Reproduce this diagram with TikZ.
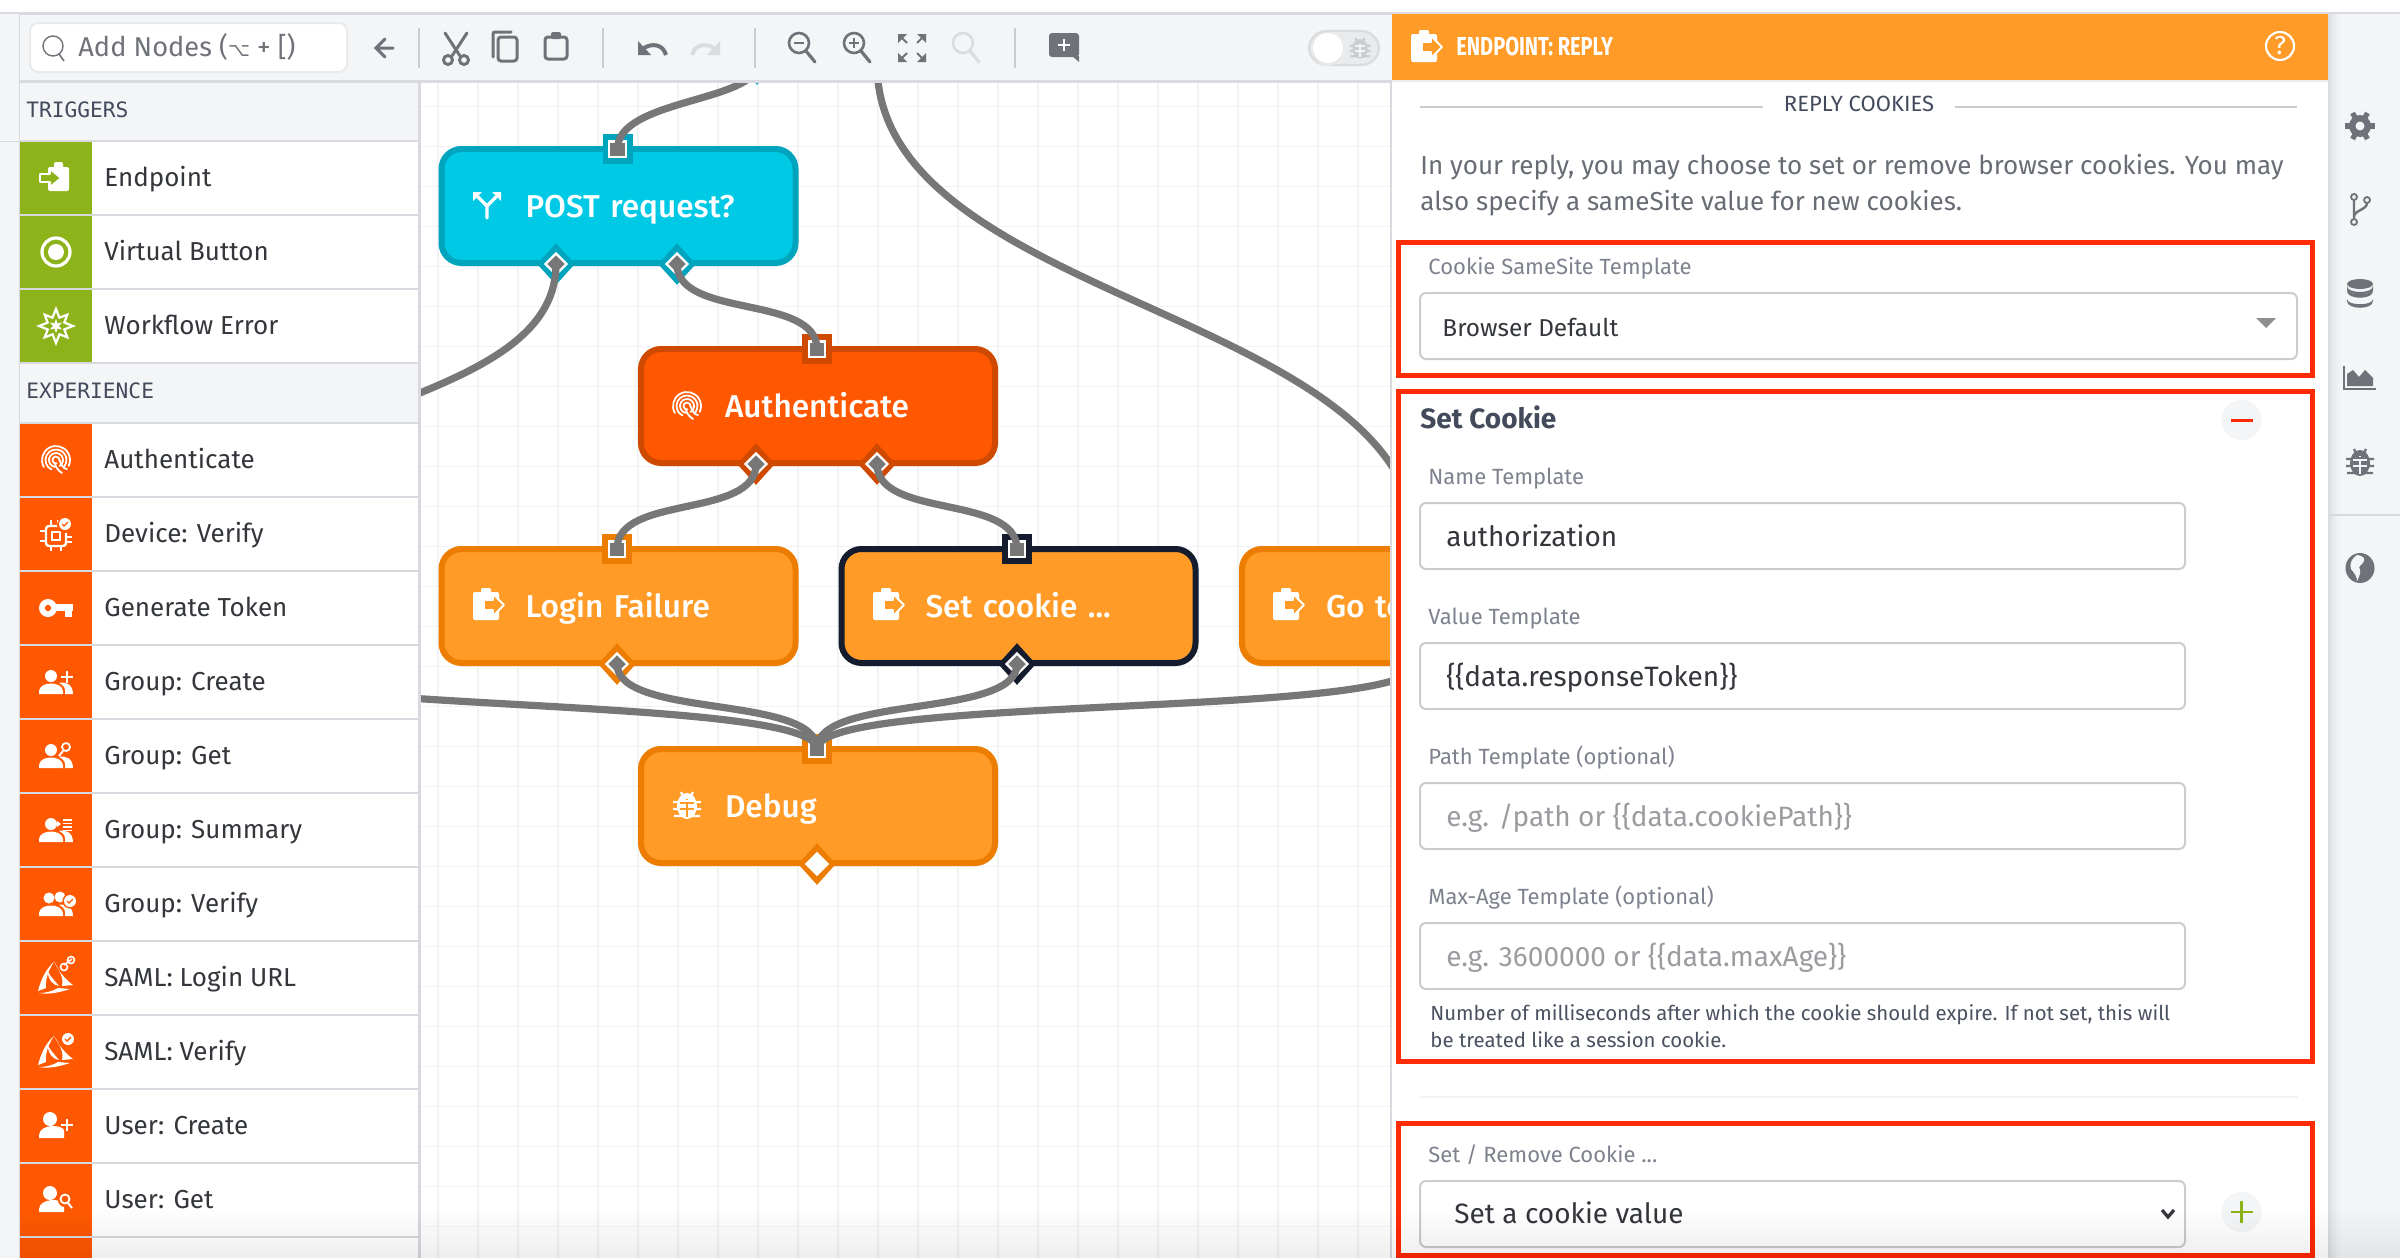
\documentclass[tikz,border=0pt]{standalone}
\usepackage{fontspec}
\usetikzlibrary{shapes.geometric}
\setmainfont{Fira Sans}
\newfontfamily\monof{DejaVu Sans Mono}
\newfontfamily\dejav{DejaVu Sans}
\newfontfamily\firamed{Fira Sans Medium}
\newcommand{\fs}[1]{\fontsize{#1pt}{#1pt}\selectfont}
\definecolor{cCyan}{HTML}{00C9E6}\definecolor{cCyanB}{HTML}{00A4BD}
\definecolor{cRed}{HTML}{FF5800}\definecolor{cRedB}{HTML}{CF4A00}
\definecolor{cOr}{HTML}{FF9B26}\definecolor{cOrB}{HTML}{EC7D00}
\definecolor{cDark}{HTML}{141C2E}\definecolor{cGreen}{HTML}{8DB31A}
\definecolor{cWire}{HTML}{777777}\definecolor{cBg}{HTML}{F4F5F7}
\definecolor{cLine}{HTML}{D9DAE0}\definecolor{cGrid}{HTML}{F2F3F4}
\definecolor{cIcon}{HTML}{6F7278}\definecolor{cLight}{HTML}{DBDCDE}
\definecolor{cBox}{HTML}{FF2B05}\definecolor{cField}{HTML}{CBCCCF}
\definecolor{cLabel}{HTML}{7D828E}\definecolor{cPara}{HTML}{676C75}
\definecolor{cHead}{HTML}{424A5C}\definecolor{cTxt}{HTML}{33363B}
\definecolor{cHint}{HTML}{9A9CA0}\definecolor{cHelp}{HTML}{4A5160}
\newcommand{\flowlab}[1]{\hspace*{42pt}#1}
\tikzset{
  flow/.style={draw,rectangle,rounded corners=10pt,line width=3pt,minimum width=177pt,minimum height=57pt,
    inner xsep=0pt,inner ysep=0pt,text width=177pt,align=left,text=white,font=\firamed\fs{15.8},text height=11pt,text depth=0pt},
  sqout/.style={rectangle,minimum size=15pt,inner sep=0pt},
  sqin/.style={rectangle,fill=cWire,draw=white,line width=1.1pt,minimum width=8.2pt,minimum height=7.6pt,inner sep=0pt},
  diout/.style={diamond,inner sep=0pt,minimum width=19pt,minimum height=21pt},
  diin/.style={diamond,fill=cWire,draw=white,line width=1.1pt,inner sep=0pt,minimum width=11pt,minimum height=11pt},
  wire/.style={draw=cWire,line width=3.6pt},
  redbox/.style={draw=cBox,line width=2.4pt},
  field/.style={draw=cField,fill=white,line width=1pt,rounded corners=3pt},
  lab/.style={anchor=base west,inner sep=0pt,font=\fs{11},text=cLabel},
  inp/.style={anchor=base west,inner sep=0pt,font=\fs{14},text=cTxt},
  hint/.style={anchor=base west,inner sep=0pt,font=\fs{14},text=cHint},
  itm/.style={anchor=base west,inner sep=0pt,font=\fs{13},text=cTxt},
  hdr/.style={anchor=base west,inner sep=0pt,font=\monof\fs{10.6},text=cHead},
  ti/.style={draw=cIcon,line width=1.5pt,line cap=round},
  wi/.style={draw=white,line width=1.2pt,line cap=round},
}
% --- icons, drawn about (0,0) in px
\newcommand{\icReply}[1]{\fill[white,rounded corners=1pt] (-16,-12) rectangle (10,16);\fill[white,rounded corners=1pt] (-8,-16) rectangle (2,-10);
  \filldraw[fill=#1,draw=white,line width=.9pt,line join=round] (-5,-4)--(4,-4)--(4,-10)--(15,1)--(4,12)--(4,6)--(-5,6)--cycle;}
\newcommand{\icEnter}[1]{\fill[white,rounded corners=1pt] (-7,-10) rectangle (14,14);\fill[white,rounded corners=1pt] (-1,-15) rectangle (8,-8);
  \filldraw[fill=#1,draw=white,line width=.9pt,line join=round] (-15,-3)--(-5,-3)--(-5,-8)--(6,1)--(-5,10)--(-5,5)--(-15,5)--cycle;}
\newcommand{\icPrint}{\draw[wi,line width=.9pt] (150:14) arc (150:385:14);
  \draw[wi,line width=.9pt] (115:10.5) arc (115:400:10.5);
  \draw[wi,line width=.9pt] (100:7) arc (100:420:7);
  \draw[wi,line width=.9pt] (80:3.5) arc (80:365:3.5);
  \draw[wi,line width=.9pt] (0:3.5)..controls (5,4) and (7,9)..(11,9);
  \draw[wi,line width=.9pt] (-1,4)..controls (0,8) and (3,11)..(6,13);}
\newcommand{\gpA}{\fill[white] (-5,-6) circle (6);\fill[white] (-17,12)--(-17,9)..controls (-16,-1) and (6,-1)..(7,9)--(7,12)--cycle;}
\newcommand{\gpB}{\fill[white] (9,12)--(9,8)..controls (9,4) and (5,2)..(3,1)..controls (10,-1) and (17,3)..(17,12)--cycle;}
\newcommand{\icPerson}{\fill[white] (-6,-7) circle (7);\fill[white] (-17,12)--(-17,9)..controls (-16,-2) and (5,-2)..(8,4)--(8,12)--cycle;}
\newcommand{\okBadge}[2]{\fill[white] (#1,#2) circle (6);\draw[cRed,line width=.7pt] ({#1-3},#2)--({#1-1},{#2+2})--({#1+3},{#2-2});}
\newcommand{\icSaml}{\fill[white] (-2,-16)..controls (-11,-8) and (-15,2)..(-18,13)--(-10,10)..controls (-11,1) and (-7,-9)..(-2,-16)--cycle;
  \fill[white] (-2,-16)..controls (4,-5) and (10,2)..(17,7)--(6,8)..controls (8,0) and (3,-9)..(-2,-16)--cycle;
  \fill[white] (-17,15)..controls (-7,17) and (5,14)..(14,11)--(2,10)..controls (-5,14) and (-11,15)..(-17,15)--cycle;
  \fill[white] (-8,-6)..controls (-8,2) and (-3,7)..(3,8)..controls (-1,3) and (-5,-1)..(-8,-6)--cycle;}
\newcommand{\icBug}[2]{\fill[#1] (0,1) ellipse (10 and 13);
  \draw[#1,line width=1.2pt] (-6,-13)--(-4,-9) (6,-13)--(4,-9) (-14,-3)--(14,-3) (-14,4)--(14,4) (-13,11)--(13,11);
  \fill[#2] (-1,-6) rectangle (1,-5);
  \fill[#2] (-7,-3.5) rectangle (7,-1.5);\fill[#2] (-7,3) rectangle (7,5);\fill[#2] (-1,-3) rectangle (1,12);}
\newcommand{\icLens}[1]{\draw[#1,line width=1.3pt] (-3,-4) circle (10);\draw[#1,line width=1.6pt,line cap=round] (4,4)--(13,15);}
\begin{document}
\begin{tikzpicture}[x=.5pt,y=-.5pt]
\useasboundingbox (0,0) rectangle (2400,1258);
% canvas
\fill[white] (0,0) rectangle (2400,1258);
\foreach \k in {0,...,23}{\draw[cGrid,line width=.7pt] ({438+40*\k},82)--({438+40*\k},1258);}
\foreach \k in {0,...,28}{\draw[cGrid,line width=.7pt] (420,{106.67+40*\k})--(1390,{106.67+40*\k});}
% flow nodes
\node[flow,draw=cCyanB,fill=cCyan] (post) at (618.5,206) {\flowlab{POST request?}};
\node[flow,draw=cRedB,fill=cRed] (auth) at (818,406) {\flowlab{Authenticate}};
\node[flow,draw=cOrB,fill=cOr] (fail) at (618.5,606) {\flowlab{Login Failure}};
\node[flow,draw=cDark,fill=cOr] (setc) at (1018.5,606) {\flowlab{Set cookie ...}};
\node[flow,draw=cOrB,fill=cOr] (goto) at (1419,606) {\flowlab{Go to}};
\node[flow,draw=cOrB,fill=cOr] (dbg) at (818,806) {\flowlab{Debug}};
% node icons
\begin{scope}[shift={(487,205)}]\draw[wi,line width=1.6pt] (0,13)--(0,1)--(-9,-8) (0,1)--(9,-8);
  \fill[white] (-14,-13)--(-5,-13)--(-14,-4)--cycle;\fill[white] (14,-13)--(5,-13)--(14,-4)--cycle;\end{scope}
\begin{scope}[shift={(687,406)}]\icPrint\end{scope}
\begin{scope}[shift={(489,604)}]\icReply{cOr}\end{scope}
\begin{scope}[shift={(889,604)}]\icReply{cOr}\end{scope}
\begin{scope}[shift={(1289,604)}]\icReply{cOr}\end{scope}
\begin{scope}[shift={(687,805)}]\icBug{white}{cOr}\end{scope}
% ports
\node[diout,fill=cCyanB] (src1o) at (757,64) {};
\coordinate (src2) at (877,64);
\coordinate (src3) at (217,549);
\coordinate (src4) at (217,660);
\foreach \n/\px/\py/\c in {post/617.5/149/cCyanB,auth/817/349/cRedB,fail/617/549/cOrB,setc/1017/549/cDark,goto/1417/549/cOrB,dbg/817/749/cOrB}{
  \node[sqout,fill=\c] (\n-q) at (\px,\py) {};
  \node[sqin] (\n-in) at (\px,\py) {};}
\foreach \n/\px/\py/\c in {post-a/556/264/cCyanB,post-b/677/264/cCyanB,auth-a/756/464/cRedB,auth-b/877/464/cRedB,fail-o/617/664/cOrB,setc-o/1017/664/cDark,goto-o/1417/664/cOrB}{
  \node[diout,fill=\c] (\n-q) at (\px,\py) {};
  \node[diin] (\n) at (\px,\py) {};}
\node[diout,fill=cOrB] (dbg-oq) at (817,864) {};
\node[diin,fill=white] (dbg-o) at (817,864) {};
% connectors
\draw[wire] (src1o.center)..controls +(0,38) and +(0,-50)..(post-in.center);
\draw[wire] (post-a.center)..controls +(0,150) and +(0,-150)..(src3);
\draw[wire] (post-b.center)..controls +(0,55) and +(0,-55)..(auth-in.center);
\draw[wire] (src2)..controls +(0,240) and +(0,-240)..(goto-in.center);
\draw[wire] (auth-a.center)..controls +(0,55) and +(0,-55)..(fail-in.center);
\draw[wire] (auth-b.center)..controls +(0,55) and +(0,-55)..(setc-in.center);
\draw[wire] (fail-o.center)..controls +(0,55) and +(0,-55)..(dbg-in.center);
\draw[wire] (setc-o.center)..controls +(0,55) and +(0,-55)..(dbg-in.center);
\draw[wire] (goto-o.center)..controls +(0,55) and +(0,-55)..(dbg-in.center);
\draw[wire] (src4)..controls +(0,55) and +(0,-55)..(dbg-in.center);
% top band
\fill[white] (0,0) rectangle (2400,12);
\fill[cBg] (0,14) rectangle (2400,80);
\fill[cLine] (0,12) rectangle (2400,14.5);
\fill[cLine] (20,80) rectangle (1392,82.5);
% left strip and sidebar
\fill[cBg] (0,14) rectangle (20,1258);
\fill[cLine] (0,140.5) rectangle (20,142);
\fill[cLine] (19,14) rectangle (20,1258);
\fill[cBg] (20,82.5) rectangle (418,1258);
\fill[cLine] (418,82.5) rectangle (420.5,1258);
\node[hdr] (h-trig) at (26,117) {TRIGGERS};
\node[hdr] (h-exp) at (26,398.5) {EXPERIENCE};
\fill[cLine] (20,140) rectangle (418,142);
\foreach \i/\ry/\c/\t in {1/142/cGreen/Endpoint,2/216/cGreen/Virtual Button,3/290/cGreen/Workflow Error,4/424/cRed/Authenticate,5/498/cRed/Device: Verify,6/572/cRed/Generate Token,7/646/cRed/Group: Create,8/720/cRed/Group: Get,9/794/cRed/Group: Summary,10/868/cRed/Group: Verify,11/942/cRed/SAML: Login URL,12/1016/cRed/SAML: Verify,13/1090/cRed/User: Create,14/1164/cRed/User: Get}{
  \fill[white] (92,\ry) rectangle (418,{\ry+72});
  \fill[\c] (20,\ry) rectangle (92,{\ry+72});
  \fill[cLine] (20,{\ry+72}) rectangle (418,{\ry+74});
  \node[itm] (row\i) at (104,{\ry+44}) {\t};}
\fill[cLine] (20,422) rectangle (418,424);
\fill[white] (92,1238) rectangle (418,1258);\fill[cRed] (20,1238) rectangle (92,1258);
% sidebar icons
\begin{scope}[shift={(55,177)}]\icEnter{cGreen}\end{scope}
\begin{scope}[shift={(56,252)}]\draw[white,line width=1.6pt] (0,0) circle (14);\fill[white] (0,0) circle (8);\end{scope}
\begin{scope}[shift={(56,326)}]
  \draw[white,line width=1.1pt,line join=miter] (90:17)--(112:9)--(135:16)--(157:9)--(180:17)--(202:9)--(225:16)--(247:9)--(270:17)--(292:9)--(315:16)--(337:9)--(0:17)--(22:9)--(45:16)--(67:9)--cycle;
  \fill[white] (90:7)--(120:3)--(150:7)--(180:3)--(210:7)--(240:3)--(270:7)--(300:3)--(330:7)--(0:3)--(30:7)--(60:3)--cycle;\end{scope}
\begin{scope}[shift={(56,460)}]\icPrint\end{scope}
\begin{scope}[shift={(56,534)}]\draw[white,line width=1.2pt,rounded corners=1.5pt] (-10,-8) rectangle (10,12);\draw[white,line width=1pt] (-4,-2) rectangle (4,6);
  \draw[white,line width=1pt] (-16,-3)--(-11,-3) (-16,7)--(-11,7) (11,3)--(16,3) (11,8)--(16,8) (-5,12)--(-5,17) (5,12)--(5,17) (-5,-14)--(-5,-9) (2,-14)--(2,-9);
  \fill[cRed] (9,-9) circle (8);\okBadge{9}{-10}\end{scope}
\begin{scope}[shift={(56,608)}]\fill[white] (-8,0) circle (9);\fill[cRed] (-8,0) circle (3.2);\fill[white] (-1,-4.5) rectangle (17,3);\fill[white] (9,3) rectangle (16,9);\end{scope}
\begin{scope}[shift={(56,682)}]\gpA\gpB\draw[white,line width=1.2pt] (11,-11)--(11,1) (5,-5)--(17,-5);\end{scope}
\begin{scope}[shift={(56,756)}]\gpA\gpB\fill[cRed] (11,-8) circle (7);\draw[white,line width=.9pt] (10,-9) circle (4);\draw[white,line width=1pt] (7,-5)--(3,0);\end{scope}
\begin{scope}[shift={(56,830)}]\gpA\gpB\draw[white,line width=.7pt] (7,-10)--(16,-10) (7,-6.5)--(16,-6.5) (7,-3)--(16,-3) (7,.5)--(16,.5);\fill[white] (1,-9)--(5,-6)--(1,-3)--cycle;\end{scope}
\begin{scope}[shift={(56,904)}]\fill[white] (-7,-6) circle (5.5);\fill[white] (4,-7) circle (5.5);\fill[white] (-17,12)--(-17,9)..controls (-16,-1) and (6,-1)..(7,9)--(7,12)--cycle;\gpB
  \fill[cRed] (14,-3) circle (7.5);\okBadge{14}{-3}\end{scope}
\begin{scope}[shift={(56,978)}]\icSaml\draw[white,line width=.8pt] (8,-13)--(16,-19);\draw[white,line width=.8pt] (8,-11) circle (3.5);\draw[white,line width=.8pt] (15,-18) circle (3.5);\end{scope}
\begin{scope}[shift={(56,1052)}]\icSaml\fill[cRed] (12,-13) circle (7.5);\okBadge{12}{-13}\end{scope}
\begin{scope}[shift={(56,1126)}]\icPerson\draw[white,line width=1.2pt] (11,-7)--(11,5) (5,-1)--(17,-1);\end{scope}
\begin{scope}[shift={(56,1200)}]\icPerson\fill[cRed] (9,0) circle (7);\draw[white,line width=.9pt] (9,-1) circle (4.5);\draw[white,line width=1pt] (12,3)--(16,8);\end{scope}
% toolbar
\draw[cLight!60,fill=white,line width=1pt,rounded corners=4pt] (30,23) rectangle (347,72);
\begin{scope}[shift={(54,48)}]\draw[cIcon,line width=.7pt] (-1,-2) circle (10);\draw[cIcon,line width=.8pt] (5,6)--(10,13);\end{scope}
\node[anchor=base west,inner sep=0pt,font=\fs{13.6},text=cIcon] (addn) at (78,56) {Add Nodes ({\dejav\fs{9.5}⌥} + [)};
\draw[ti] (393,48)--(376,48) (385,39)--(376,48)--(385,57);
\foreach \sx in {418.5,603,755,1015}{\draw[cField,line width=1pt] (\sx,28)--(\sx,68);}
\begin{scope}[shift={(456,48)}]\draw[ti] (-8,14)--(11,-15) (8,14)--(-11,-15);\draw[ti,fill=cBg] (-8,12) circle (4.5);\draw[ti,fill=cBg] (8,12) circle (4.5);\end{scope}
\begin{scope}[shift={(505,47)}]\draw[ti,rounded corners=1pt] (-12,10)--(-12,-15)--(6,-15);\draw[ti,rounded corners=1.5pt] (-7,-10) rectangle (12,14);\end{scope}
\begin{scope}[shift={(556,47)}]\draw[ti,rounded corners=1.5pt] (-11,-10) rectangle (11,12);\fill[cIcon,rounded corners=1pt] (-5,-15) rectangle (5,-8);\end{scope}
\begin{scope}[shift={(652,48)}]\draw[cIcon,line width=2pt] (14,7)..controls (11,-4) and (0,-5)..(-8,0);\fill[cIcon] (-14,-7)--(-14,7)--(-1,7)--cycle;\end{scope}
\begin{scope}[shift={(706,48)},xscale=-1]\draw[cLight,line width=2pt] (14,7)..controls (11,-4) and (0,-5)..(-8,0);\fill[cLight] (-14,-7)--(-14,7)--(-1,7)--cycle;\end{scope}
\begin{scope}[shift={(802,47)}]\icLens{cIcon}\draw[cIcon,line width=.8pt] (-8,-4)--(2,-4);\end{scope}
\begin{scope}[shift={(857,47)}]\icLens{cIcon}\draw[cIcon,line width=.8pt] (-8,-4)--(2,-4) (-3,-9)--(-3,1);\end{scope}
\begin{scope}[shift={(912,48)}]
  \fill[cIcon] (-14,-14)--(-5,-14)--(-14,-5)--cycle (14,-14)--(5,-14)--(14,-5)--cycle (-14,14)--(-5,14)--(-14,5)--cycle (14,14)--(5,14)--(14,5)--cycle;
  \draw[cIcon,line width=1pt] (-11,-11)--(-5,-5) (11,-11)--(5,-5) (-11,11)--(-5,5) (11,11)--(5,5);\end{scope}
\begin{scope}[shift={(966,47)}]\icLens{cLight}\end{scope}
\begin{scope}[shift={(1064,47)}]\fill[cIcon,rounded corners=1.5pt] (-15,-14) rectangle (15,10);\fill[cIcon] (8,9)--(15,9)--(15,15)--cycle;\draw[white,line width=1.2pt] (0,-8)--(0,4) (-6,-2)--(6,-2);\end{scope}
\draw[cLight,fill=cBg!60!cLight,line width=1.2pt,rounded corners=9pt] (1309,31) rectangle (1379,65);
\fill[cLight!70] (1328,50) ellipse (15 and 16);
\fill[white] (1328,48) ellipse (15 and 15);
\begin{scope}[shift={(1360,48)},scale=.75]\icBug{cField}{cBg}\end{scope}
% right panel
\fill[white] (1392,82) rectangle (2328,1258);
\fill[cLine] (1390,82) rectangle (1392,1258);
\fill[cOr] (1392,14) rectangle (2328,80);
\fill[cBg!70!cLine] (1392,80) rectangle (2328,82);
\begin{scope}[shift={(1427,46)}]\icReply{cOr}\end{scope}
\node[anchor=base west,inner sep=0pt,font=\bfseries\fs{13},text=white] (ptitle) at (1456,55) {\scalebox{.77}[1]{ENDPOINT: REPLY}};
\node[circle,draw=white,line width=1.1pt,minimum size=14pt,inner sep=0pt,font=\fs{13},text=white] (phelp) at (2280,46) {?};
% right strip
\fill[cBg] (2328,14) rectangle (2400,1258);
\foreach \k/\o in {0/.10,1/.07,2/.05,3/.035,4/.02,5/.01}{\fill[black,opacity=\o] ({2328+\k*2},14) rectangle ({2330+\k*2},1258);}
\foreach \k/\o in {0/.06,1/.04,2/.02}{\fill[black,opacity=\o] ({19-\k*2},142) rectangle ({17-\k*2+2},1258);}
\fill[cLine] (2328,514) rectangle (2400,516);
\begin{scope}[shift={(2360,126)}]\foreach \a in {0,60,...,300}{\draw[cIcon,line width=2.6pt] (\a:8)--(\a:15);}\fill[cIcon] (0,0) circle (11);\fill[cBg] (0,0) circle (4.5);\end{scope}
\begin{scope}[shift={(2360,210)}]\draw[cIcon,line width=.9pt] (-6,-13) circle (3) (7,-10) circle (3) (-6,12) circle (3);\draw[cIcon,line width=1.2pt] (-6,-10)--(-6,9) (7,-7)..controls (7,0) and (-6,0)..(-6,7);\end{scope}
\begin{scope}[shift={(2360,294)}]\fill[cIcon] (0,-10) ellipse (13 and 5);\foreach \yy in {-5,5}{\fill[cIcon] (-13,\yy)..controls (-13,{\yy+7}) and (13,{\yy+7})..(13,\yy)--(13,{\yy+2})..controls (13,{\yy+11}) and (-13,{\yy+11})..(-13,{\yy+2})--cycle;}\fill[cIcon] (-13,-8)..controls (-13,0) and (13,0)..(13,-8)--(13,-5)..controls (13,2) and (-13,2)..(-13,-5)--cycle;\end{scope}
\begin{scope}[shift={(2360,378)}]\draw[cIcon,line width=.9pt] (-16,-12)--(-16,11)--(16,11);\fill[cIcon] (-13,8)--(-13,-4)--(-7,-8)--(-1,-1)--(5,-8)--(13,0)--(13,8)--cycle;\end{scope}
\begin{scope}[shift={(2360,462)}]\icBug{cIcon}{cBg}\end{scope}
\begin{scope}[shift={(2360,568)}]\fill[cIcon] (0,0) ellipse (14.5 and 15);\fill[cBg] (-3,-13)..controls (-8,-10) and (-11,-4)..(-9,1)..controls (-6,5) and (-3,8)..(-3,13)..controls (-1,9) and (2,3)..(-1,-1)..controls (1,-4) and (5,-5)..(4,-10)..controls (2,-12) and (-1,-13)..(-3,-13)--cycle;\end{scope}
% panel content
\node[anchor=base,inner sep=0pt,font=\fs{11},text=cHead] (rc) at (1859,111.7) {REPLY COOKIES};
\draw[cField,line width=1pt] (1420,107)--(1763,107) (1955,107)--(2297,107);
\node[anchor=base west,inner sep=0pt,font=\fs{13},text=cPara] (p1) at (1420,174) {In your reply, you may choose to set or remove browser cookies. You may};
\node[anchor=base west,inner sep=0pt,font=\fs{13},text=cPara] (p2) at (1420,210) {also specify a sameSite value for new cookies.};
\draw[redbox] (1398.5,242.5) rectangle (2312.5,375.5);
\node[lab] (l1) at (1428,274) {Cookie SameSite Template};
\draw[field] (1420,293) rectangle (2297,359);
\node[inp,font=\fs{12.2}] (v1) at (1442,336) {Browser Default};
\fill[cField!70!black] (2256,318)--(2276,318)--(2266,328)--cycle;
\draw[redbox] (1398.5,391.5) rectangle (2312.5,1061.5);
\node[anchor=base west,inner sep=0pt,font=\bfseries\fs{14},text=cHead] (sc) at (1420,428.2) {Set Cookie};
\fill[cBg] (2241.5,420) circle (20);\fill[cBox] (2231,418.5) rectangle (2253,421.5);
\node[lab] (l2) at (1428,484) {Name Template};
\draw[field] (1420,503) rectangle (2185,569);
\node[inp] (v2) at (1446,546.2) {authorization};
\node[lab] (l3) at (1428,624) {Value Template};
\draw[field] (1420,643) rectangle (2185,709);
\node[inp] (v3) at (1446,686.2) {\{\{data.responseToken\}\}};
\node[lab] (l4) at (1428,764) {Path Template (optional)};
\draw[field] (1420,783) rectangle (2185,849);
\node[hint] (v4) at (1446,826.2) {e.g. /path or \{\{data.cookiePath\}\}};
\node[lab] (l5) at (1428,904) {Max-Age Template (optional)};
\draw[field] (1420,923) rectangle (2185,989);
\node[hint] (v5) at (1446,966.2) {e.g. 3600000 or \{\{data.maxAge\}\}};
\node[anchor=base west,inner sep=0pt,font=\fs{10.2},text=cHelp] (h1) at (1430,1020) {Number of milliseconds after which the cookie should expire. If not set, this will};
\node[anchor=base west,inner sep=0pt,font=\fs{10.2},text=cHelp] (h2) at (1430,1047.7) {be treated like a session cookie.};
\draw[cGrid,line width=1pt] (1420,1096.7)--(2298,1096.7);
\draw[redbox] (1398.5,1123.5) rectangle (2312.5,1255.5);
\node[lab] (l6) at (1428,1162.5) {Set / Remove Cookie ...};
\draw[field] (1420,1181) rectangle (2185,1247);
\node[inp] (v6) at (1454,1223.5) {Set a cookie value};
\draw[cTxt,line width=1.6pt] (2162,1210)--(2168,1217)--(2174,1210);
\fill[cBg] (2241.5,1212) circle (20);\draw[cGreen,line width=1.2pt] (2241.5,1201)--(2241.5,1223) (2230.5,1212)--(2252.5,1212);
% bottom fade
\foreach \k in {0,...,7}{\fill[black,opacity=.006] (20,{1210+\k*6}) rectangle (2400,1258);}
\end{tikzpicture}
\end{document}
